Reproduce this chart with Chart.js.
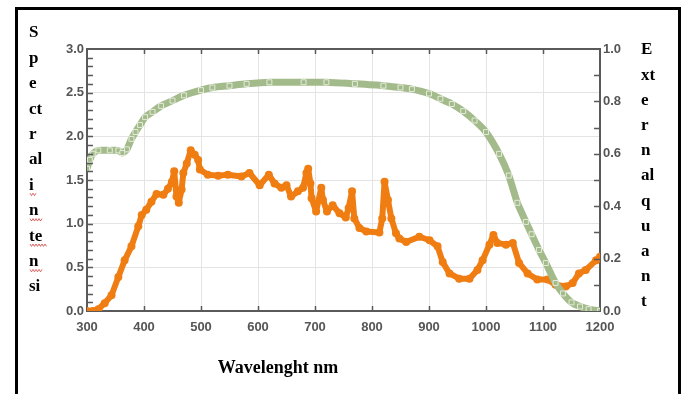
<!DOCTYPE html>
<html lang="en">
<head>
<meta charset="UTF-8">
<title>Spectral intensity and external quantum efficiency</title>
<script src="https://cdn.jsdelivr.net/npm/chart.js"></script>
<style>
  html, body { margin: 0; padding: 0; background: #fff; }
  #wrap { width: 685px; height: 394px; }
</style>
</head>
<body>
<div id="wrap"><canvas id="chart" width="685" height="394"></canvas></div>
<script>
// spectral intensity (left axis)
const specWl = [300, 310, 320, 331, 343, 355, 366, 378, 390, 396, 404, 413, 422, 434, 442, 449, 453, 457, 461, 466,
  469, 475, 482, 489, 495, 498, 512, 530, 547, 571, 585, 603, 619, 629, 641, 650, 658, 670, 679, 685,
  688, 692, 694, 702, 711, 714, 721, 731, 743, 754, 759, 765, 769, 778, 790, 813, 818, 822, 828, 834,
  842, 848, 860, 883, 901, 915, 924, 936, 953, 971, 985, 994, 1006, 1013, 1020, 1035, 1047, 1058, 1073, 1090,
  1108, 1122, 1140, 1152, 1163, 1175, 1193, 1200];
const specVal = [0.00, 0.00, 0.02, 0.09, 0.18, 0.39, 0.58, 0.74, 0.97, 1.10, 1.16, 1.25, 1.34, 1.33, 1.40, 1.48, 1.60, 1.31, 1.24, 1.39,
  1.58, 1.69, 1.84, 1.79, 1.73, 1.62, 1.56, 1.55, 1.56, 1.54, 1.58, 1.44, 1.56, 1.46, 1.41, 1.44, 1.31, 1.37, 1.41, 1.58,
  1.63, 1.46, 1.29, 1.14, 1.41, 1.27, 1.14, 1.21, 1.12, 1.07, 1.18, 1.37, 1.06, 0.95, 0.91, 0.90, 1.06, 1.48, 1.27, 1.06,
  0.89, 0.83, 0.79, 0.85, 0.81, 0.74, 0.56, 0.43, 0.37, 0.37, 0.47, 0.58, 0.76, 0.87, 0.78, 0.76, 0.78, 0.55, 0.43, 0.36,
  0.36, 0.30, 0.28, 0.32, 0.43, 0.47, 0.58, 0.62];

// external quantum efficiency (right axis, 0..1)
const eqeWl = [300, 305, 310, 320, 340, 355, 362, 370, 378, 385, 393, 402, 415, 430, 450, 470, 500, 520, 550, 580,
  620, 680, 720, 770, 820, 850, 870, 900, 920, 940, 960, 980, 1000, 1023, 1040, 1055, 1070, 1080, 1093, 1105,
  1122, 1135, 1150, 1165, 1180, 1200];
const eqeVal = [0.543, 0.577, 0.600, 0.613, 0.613, 0.613, 0.603, 0.617, 0.657, 0.683, 0.710, 0.740, 0.760, 0.783, 0.803, 0.823, 0.843, 0.853, 0.860, 0.867,
  0.873, 0.873, 0.873, 0.867, 0.860, 0.853, 0.847, 0.830, 0.810, 0.790, 0.763, 0.727, 0.683, 0.600, 0.517, 0.413, 0.340, 0.293, 0.233, 0.183,
  0.107, 0.067, 0.033, 0.017, 0.007, 0.000];

const leftTitle = ['S', 'p', 'e', 'ct', 'r', 'al', 'i', 'n', 'te', 'n', 'si'];
const rightTitle = ['E', 'xt', 'e', 'r', 'n', 'al', 'q', 'u', 'a', 'n', 't'];
const xTitle = 'Wavelenght nm';

const axisColor = '#5a5a5a';
const tickFont = { family: 'Arial, "Liberation Sans", sans-serif', size: 13, weight: 'bold' };
const serif = '"Liberation Serif", "Times New Roman", serif';

// frame, inward ticks and the stacked axis titles
const decor = {
  id: 'decor',
  beforeDraw(chart) {
    const c = chart.ctx;
    c.save();
    c.strokeStyle = '#000';
    c.lineWidth = 3;
    c.strokeRect(16.5, 8.5, 663, 400);
    c.restore();
  },
  afterDraw(chart) {
    const c = chart.ctx;
    const a = chart.chartArea;
    const x = chart.scales.x, y = chart.scales.y, y2 = chart.scales.y2;
    c.save();
    c.strokeStyle = axisColor;
    c.lineWidth = 2;
    // top border
    c.beginPath();
    c.moveTo(a.left, a.top);
    c.lineTo(a.right, a.top);
    c.stroke();
    c.lineWidth = 1.5;
    c.beginPath();
    for (let v = 400; v <= 1100; v += 100) {
      const px = Math.round(x.getPixelForValue(v)) + 0.5;
      c.moveTo(px, a.bottom); c.lineTo(px, a.bottom - 5);
      c.moveTo(px, a.top); c.lineTo(px, a.top + 5);
    }
    for (let i = 1; i < 30; i++) {
      const py = Math.round(y.getPixelForValue(i / 10)) + 0.5;
      c.moveTo(a.left, py); c.lineTo(a.left + 6, py);
    }
    for (let i = 1; i < 10; i++) {
      const py = Math.round(y2.getPixelForValue(i / 10)) + 0.5;
      c.moveTo(a.right, py); c.lineTo(a.right - 6, py);
    }
    c.stroke();

    c.fillStyle = '#000';
    c.font = 'bold 17px ' + serif;
    c.textBaseline = 'middle';
    c.textAlign = 'left';
    leftTitle.forEach((t, i) => c.fillText(t, 29, 33 + i * 25.4));
    rightTitle.forEach((t, i) => c.fillText(t, 641, 50 + i * 25.2));
    c.textAlign = 'center';
    c.font = 'bold 18px ' + serif;
    c.fillText(xTitle, 278, 368);

    // spell-check squiggles under a few of the left letters
    c.strokeStyle = '#d04040';
    c.lineWidth = 0.8;
    [[30, 36, 6], [30, 43, 7], [30, 47, 8], [30, 43, 9]].forEach(([x0, x1, i]) => {
      const yy = 33 + i * 25.4 + 9;
      c.beginPath();
      let up = true;
      for (let xx = x0; xx <= x1; xx += 1.5) {
        const py = yy + (up ? -1.2 : 1.2);
        if (xx === x0) c.moveTo(xx, py); else c.lineTo(xx, py);
        up = !up;
      }
      c.stroke();
    });
    c.restore();
  }
};

const orange = '#f07d12';
const green = '#a3ba8a';

new Chart(document.getElementById('chart').getContext('2d'), {
  type: 'line',
  data: {
    datasets: [{
      label: 'External quantum efficiency',
      data: eqeWl.map((w, i) => ({ x: w, y: eqeVal[i] })),
      yAxisID: 'y2',
      borderColor: green,
      borderWidth: 7,
      borderJoinStyle: 'round',
      pointStyle: 'rect',
      pointRadius: 3.5,
      pointBackgroundColor: green,
      pointBorderColor: '#e4ecdc',
      pointBorderWidth: 1,
      tension: 0.2,
      order: 0
    }, {
      label: 'Spectral intensity',
      data: specWl.map((w, i) => ({ x: w, y: specVal[i] })),
      yAxisID: 'y',
      borderColor: orange,
      borderWidth: 6,
      borderJoinStyle: 'round',
      borderCapStyle: 'round',
      pointRadius: 4,
      pointBackgroundColor: orange,
      pointBorderColor: orange,
      pointBorderWidth: 0,
      tension: 0,
      order: 1
    }]
  },
  options: {
    responsive: false,
    animation: false,
    devicePixelRatio: 1,
    layout: { padding: { top: 49, left: 0, right: 0, bottom: 0 } },
    plugins: { legend: { display: false }, tooltip: { enabled: false } },
    scales: {
      x: {
        type: 'linear',
        min: 300,
        max: 1200,
        ticks: { stepSize: 100, font: tickFont, color: '#555', padding: 9, callback: v => String(v) },
        grid: { color: '#e4e4e4', drawTicks: false },
        border: { color: axisColor, width: 2 },
        afterFit(s) { s.height = 83; }
      },
      y: {
        position: 'left',
        min: 0,
        max: 3,
        ticks: { stepSize: 0.5, font: tickFont, color: '#555', padding: 3, callback: v => v.toFixed(1) },
        grid: { color: '#e4e4e4', drawTicks: false },
        border: { color: axisColor, width: 2 },
        afterFit(s) { s.width = 87; }
      },
      y2: {
        position: 'right',
        min: 0,
        max: 1,
        ticks: { stepSize: 0.2, font: tickFont, color: '#555', padding: 3, callback: v => v.toFixed(1) },
        grid: { drawOnChartArea: false, drawTicks: false },
        border: { color: axisColor, width: 2 },
        afterFit(s) { s.width = 85; }
      }
    }
  },
  plugins: [decor]
});
</script>
</body>
</html>
